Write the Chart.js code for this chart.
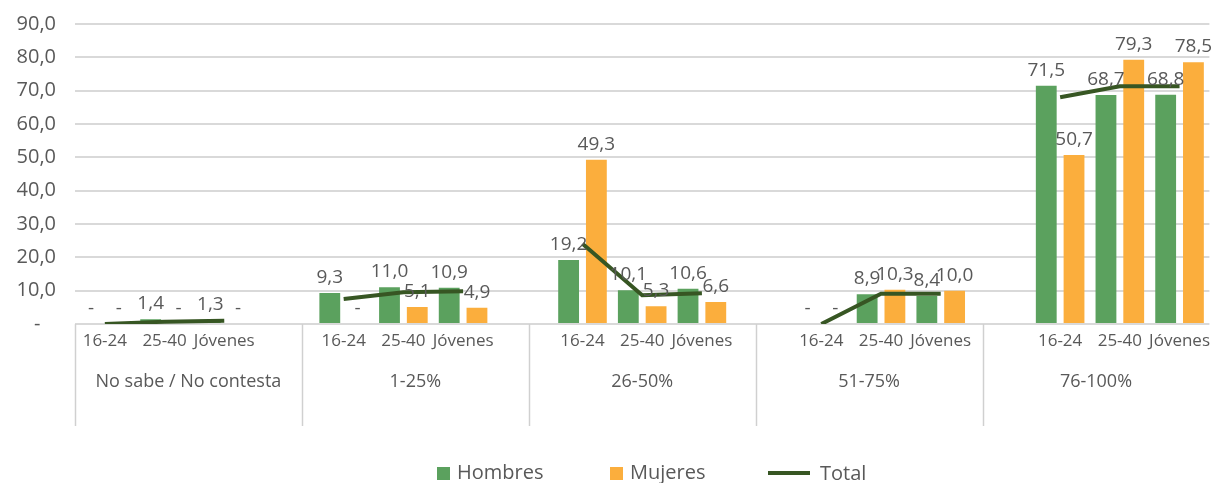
<!DOCTYPE html>
<html>
<head>
<meta charset="utf-8">
<script src="https://cdn.jsdelivr.net/npm/chart.js@4"></script>
<style>
  html, body { margin: 0; padding: 0; background: #fff; }
  #wrap { width: 1217px; height: 483px; }
</style>
</head>
<body>
<div id="wrap"><canvas id="grafico"></canvas></div>
<script>
// datos
const grupos = ['No sabe / No contesta', '1-25%', '26-50%', '51-75%', '76-100%']
const edades = ['16-24', '25-40', 'Jóvenes']
const hombres = [0, 1.4, 1.3, 9.3, 11.0, 10.9, 19.2, 10.1, 10.6, 0, 8.9, 8.4, 71.5, 68.7, 68.8]
const mujeres = [0, 0, 0, 0, 5.1, 4.9, 49.3, 5.3, 6.6, 0, 10.3, 10.0, 50.7, 79.3, 78.5]
const total = [0, 0.7, 1.0, 7.5, 9.5, 9.8, 24.1, 8.6, 9.2, 0, 9.1, 9.1, 68.0, 71.3, 71.3]
const ticksY = [0, 10, 20, 30, 40, 50, 60, 70, 80, 90]

const FUENTE = "'Open Sans', sans-serif"
const GRIS = '#595959'

// mete un hueco (null) entre cada grupo de 3
function conHuecos(arr, vacio) {
    const out = []
    arr.forEach((v, i) => {
        if (i > 0 && i % 3 === 0) out.push(vacio)
        out.push(v)
    })
    return out
}

const etiquetas = conHuecos(grupos.flatMap(() => edades), '')

function formato(v) {
    if (v === 0) return '-'
    return v.toFixed(1).replace('.', ',')
}

// etiquetas de valor sobre las barras
const valoresPlugin = {
    id: 'valores',
    afterDatasetsDraw(chart) {
        const ctx = chart.ctx
        ctx.save()
        ctx.font = '19px ' + FUENTE
        ctx.fillStyle = GRIS
        ctx.textAlign = 'center'
        ctx.textBaseline = 'alphabetic'
        ;[0, 1].forEach(d => {
            const meta = chart.getDatasetMeta(d)
            meta.data.forEach((el, i) => {
                const v = chart.data.datasets[d].data[i]
                if (v === null) return
                ctx.fillText(formato(v), el.x, el.y - 10)
            })
        })
        ctx.restore()
    }
}

// separadores de grupo + leyenda
const extrasPlugin = {
    id: 'extras',
    afterDraw(chart) {
        const ctx = chart.ctx
        const g = chart.scales.g
        const area = chart.chartArea
        ctx.save()
        ctx.strokeStyle = '#d0d0d0'
        ctx.lineWidth = 1.5
        for (let i = 0; i < grupos.length; i++) {
            const x = Math.round(g.left + i * g.width / grupos.length) + 0.5
            ctx.beginPath()
            ctx.moveTo(x, area.bottom)
            ctx.lineTo(x, g.bottom)
            ctx.stroke()
        }

        // leyenda
        const y = 473
        ctx.font = '20px ' + FUENTE
        ctx.fillStyle = GRIS
        ctx.textBaseline = 'middle'
        const ds = chart.data.datasets
        const pos = [437, 610, 768]
        ds.forEach((d, i) => {
            const x = pos[i]
            if (d.type === 'line') {
                ctx.strokeStyle = d.borderColor
                ctx.lineWidth = 4
                ctx.beginPath()
                ctx.moveTo(x, y)
                ctx.lineTo(x + 42, y)
                ctx.stroke()
                ctx.fillStyle = GRIS
                ctx.fillText(d.label, x + 52, y + 1)
            } else {
                ctx.fillStyle = d.backgroundColor
                ctx.fillRect(x, y - 6, 13, 13)
                ctx.fillStyle = GRIS
                ctx.fillText(d.label, x + 20, y)
            }
        })
        ctx.restore()
    }
}

const data = {
    labels: etiquetas,
    datasets: [
        {
            label: 'Hombres',
            data: conHuecos(hombres, null),
            backgroundColor: '#5BA15E',
            order: 2,
        },
        {
            label: 'Mujeres',
            data: conHuecos(mujeres, null),
            backgroundColor: '#FBAE3D',
            order: 2,
        },
        {
            type: 'line',
            label: 'Total',
            data: conHuecos(total, null),
            borderColor: '#375623',
            borderWidth: 4,
            pointRadius: 0,
            spanGaps: false,
            tension: 0,
            order: 1,
        },
    ]
}

const config = {
    type: 'bar',
    data: data,
    options: {
        responsive: false,
        animation: false,
        categoryPercentage: 0.93,
        barPercentage: 0.75,
        layout: {
            padding: { top: 24, right: 0, bottom: 57, left: 0 }
        },
        plugins: {
            legend: { display: false },
            tooltip: { enabled: false },
        },
        scales: {
            x: {
                grid: { display: false, drawTicks: false },
                border: { display: false },
                ticks: {
                    padding: 7,
                    autoSkip: false,
                    maxRotation: 0,
                    font: { size: 17, family: FUENTE },
                    color: GRIS,
                },
                afterFit(scale) { scale.height = 27 },
            },
            g: {
                type: 'category',
                position: 'bottom',
                labels: grupos,
                offset: true,
                weight: 1,
                grid: { display: false, drawTicks: false },
                border: { display: false },
                ticks: {
                    padding: 20,
                    maxRotation: 0,
                    autoSkip: false,
                    font: { size: 18, family: FUENTE },
                    color: GRIS,
                },
                afterFit(scale) { scale.height = 75 },
            },
            y: {
                min: 0,
                max: 90,
                afterBuildTicks(scale) {
                    scale.ticks = ticksY.map(v => ({ value: v }))
                },
                afterFit(scale) {
                    scale.width = 75
                    scale.paddingTop = 0
                    scale.paddingBottom = 0
                },
                grid: { color: '#d9d9d9', lineWidth: 2, drawTicks: false },
                border: { display: false },
                ticks: {
                    padding: 19,
                    font: { size: 20, family: FUENTE },
                    color: GRIS,
                    callback: v => v === 0 ? '-   ' : formato(v),
                },
            },
        },
    },
    plugins: [valoresPlugin, extrasPlugin],
}

const canvas = document.getElementById('grafico')
canvas.width = 1217
canvas.height = 483
const chart = new Chart(canvas, config)
</script>
</body>
</html>
